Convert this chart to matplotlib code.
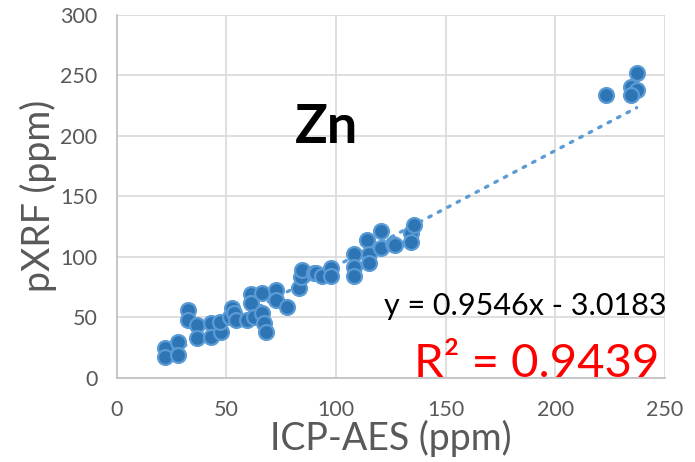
import matplotlib.pyplot as plt
import numpy as np

# ICP-AES vs pXRF, Zn (ppm)
icp = [21.8, 21.8, 27.7, 27.7, 32.3, 32.3, 36.4, 36.4, 43, 43, 47.7, 47, 51.4, 52.7,
       53.6, 54.5, 59.5, 61, 61, 62.7, 66, 66, 67, 68, 72.7, 72.7, 77.7, 83, 84, 84.5,
       90, 91, 93.6, 97.7, 97.7, 108, 108, 108, 114, 115, 115, 120.5, 120.5, 126,
       127, 134, 134, 135.5, 223, 237, 234.5, 237, 234.5]
pxrf = [24.8, 17.4, 29.8, 19, 56, 48, 44, 33, 45, 34, 38, 46, 50, 58,
        54, 48, 48, 69, 62, 50, 70, 54, 45, 38, 73, 64, 59, 74, 83, 89,
        87, 87, 84, 91, 84, 102, 92, 84, 114, 102, 95, 107, 121, 111,
        110, 120, 112, 126, 234, 252, 240, 238, 234]

slope = 0.9546
intercept = -3.0183
r2 = 0.9439

grid_col = "#D9D9D9"
text_col = "#595959"
font = "Lato"

fig = plt.figure(figsize=(6.95, 4.62), dpi=100)
ax = fig.add_axes([0.168, 0.182, 0.789, 0.786])

# trendline (round dot style)
xl = np.array([min(icp), max(icp)])
ax.plot(xl, slope * xl + intercept, linestyle=(0, (0.8, 2.4)), color="#5B9BD5",
        linewidth=2.4, dash_capstyle="round", zorder=2)

ax.scatter(icp, pxrf, s=115, color="#2E75B6", edgecolor="#5B9BD5", linewidth=1.6,
           zorder=3)

ax.set_xlim(0, 250)
ax.set_ylim(0, 300)
ax.set_xticks(np.arange(0, 251, 50))
ax.set_yticks(np.arange(0, 301, 50))
ax.grid(True, color=grid_col, linewidth=1.2)
ax.set_axisbelow(True)
for s in ["top", "right"]:
    ax.spines[s].set_visible(False)
for s in ["left", "bottom"]:
    ax.spines[s].set_color("#BFBFBF")
    ax.spines[s].set_linewidth(1.2)
ax.tick_params(axis="x", length=0, labelsize=15.5, labelcolor=text_col, pad=16)
ax.tick_params(axis="y", length=0, labelsize=15.5, labelcolor=text_col, pad=14)
for lab in ax.get_xticklabels() + ax.get_yticklabels():
    lab.set_family(font)

ax.set_xlabel("ICP-AES (ppm)", fontsize=27, color=text_col, family=font, labelpad=0)
ax.set_ylabel("pXRF (ppm)", fontsize=27, color=text_col, family=font, labelpad=2)

ax.text(81, 194, "Zn", fontsize=39, fontweight="bold", color="black", family=font,
        va="baseline")
ax.text(121.8, 52, "y = %.4fx - %.4f" % (slope, abs(intercept)), fontsize=22,
        color="black", family=font, va="baseline", clip_on=False)
ax.text(135.5, 1, "R² = %.4f" % r2, fontsize=34, color="red", family=font,
        va="baseline", clip_on=False)

fig.savefig("out.png", dpi=100)
